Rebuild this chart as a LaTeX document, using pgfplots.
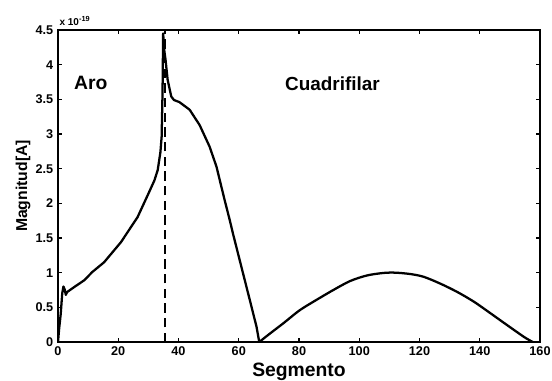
\documentclass[border=0pt]{standalone}
\usepackage{pgfplots}
\pgfplotsset{compat=1.18}
\usepackage{fontspec}
\setmainfont{Liberation Sans}
\begin{document}
\begin{tikzpicture}
\begin{axis}[
  scale only axis,
  width=361.5pt, height=234pt,
  xmin=0, xmax=160, ymin=0, ymax=4.5,
  xtick={0,20,...,160},
  ytick={0,0.5,1,1.5,2,2.5,3,3.5,4,4.5},
  yticklabels={0,0.5,1,1.5,2,2.5,3,3.5,4,4.5},
  /pgf/number format/assume math mode=true,
  tick label style={font=\bfseries\fontsize{9.5}{10}\selectfont},
  tick align=inside, tick pos=both,
  major tick length=3pt,
  axis line style={line width=1.1pt},
  every tick/.style={black, line width=0.8pt},
  xlabel={Segmento},
  ylabel={Magnitud[A]},
  xlabel style={font=\bfseries\fontsize{14.5}{15}\selectfont, yshift=1.5pt},
  ylabel style={font=\bfseries\fontsize{11.8}{13}\selectfont, yshift=-3pt},
  clip=true,
]
\addplot[black, line width=1.7pt, line join=round] coordinates {
(0,0) (0.4,0.2) (0.9,0.4) (1.4,0.70) (1.8,0.80) (2.2,0.76) (2.6,0.68) (3.0,0.72)
(4,0.75) (5.3,0.79) (8.7,0.89) (11.4,1.01) (15.3,1.15) (20.9,1.44) (26.4,1.80)
(29.8,2.12) (32,2.33) (33.1,2.48) (34,2.74) (34.4,2.96) (34.7,3.6) (34.9,4.45)
(35.3,4.2) (35.7,4.07) (36.4,3.78) (37.6,3.54) (38.5,3.49) (40.3,3.46) (43.7,3.35)
(47,3.13) (50.3,2.82) (52.6,2.53) (55.3,2.05) (57,1.76) (58.1,1.56) (60.9,1.08)
(63.7,0.60) (65.9,0.22) (66.8,0)
};
\addplot[black, line width=1.7pt, line join=round, smooth, tension=0.5] coordinates {
(66.8,0) (70.3,0.12) (74.8,0.27) (80.3,0.46) (85.9,0.61) (91.4,0.75) (97,0.88)
(102.6,0.96) (108.1,0.996) (112,1.0) (117,0.98) (121.4,0.94) (127,0.84)
(132.6,0.72) (138.1,0.58) (143.7,0.41) (149.2,0.24) (154.8,0.07) (157.6,0)
};
\addplot[black, line width=1.3pt, dash pattern=on 7pt off 4pt] coordinates {(35.5,0) (35.5,4.5)};
\node[anchor=west, inner sep=0pt, font=\bfseries\fontsize{14.5}{15}\selectfont] at (axis cs:5.3,3.73) {Aro};
\node[anchor=west, inner sep=0pt, font=\bfseries\fontsize{14.2}{15}\selectfont] at (axis cs:75.3,3.73) {Cuadrifilar};
\end{axis}
\node[anchor=south west, font=\bfseries\fontsize{7.5}{8}\selectfont, inner sep=0pt] at ([xshift=1pt,yshift=3pt]current axis.north west) {x 10\raisebox{0.8ex}{\fontsize{5.5}{6}\selectfont -19}};
\pgfresetboundingbox
\path ([xshift=-43.5pt,yshift=-29.25pt]current axis.south west) rectangle ([xshift=9pt,yshift=22.5pt]current axis.north east);
\end{tikzpicture}
\end{document}
